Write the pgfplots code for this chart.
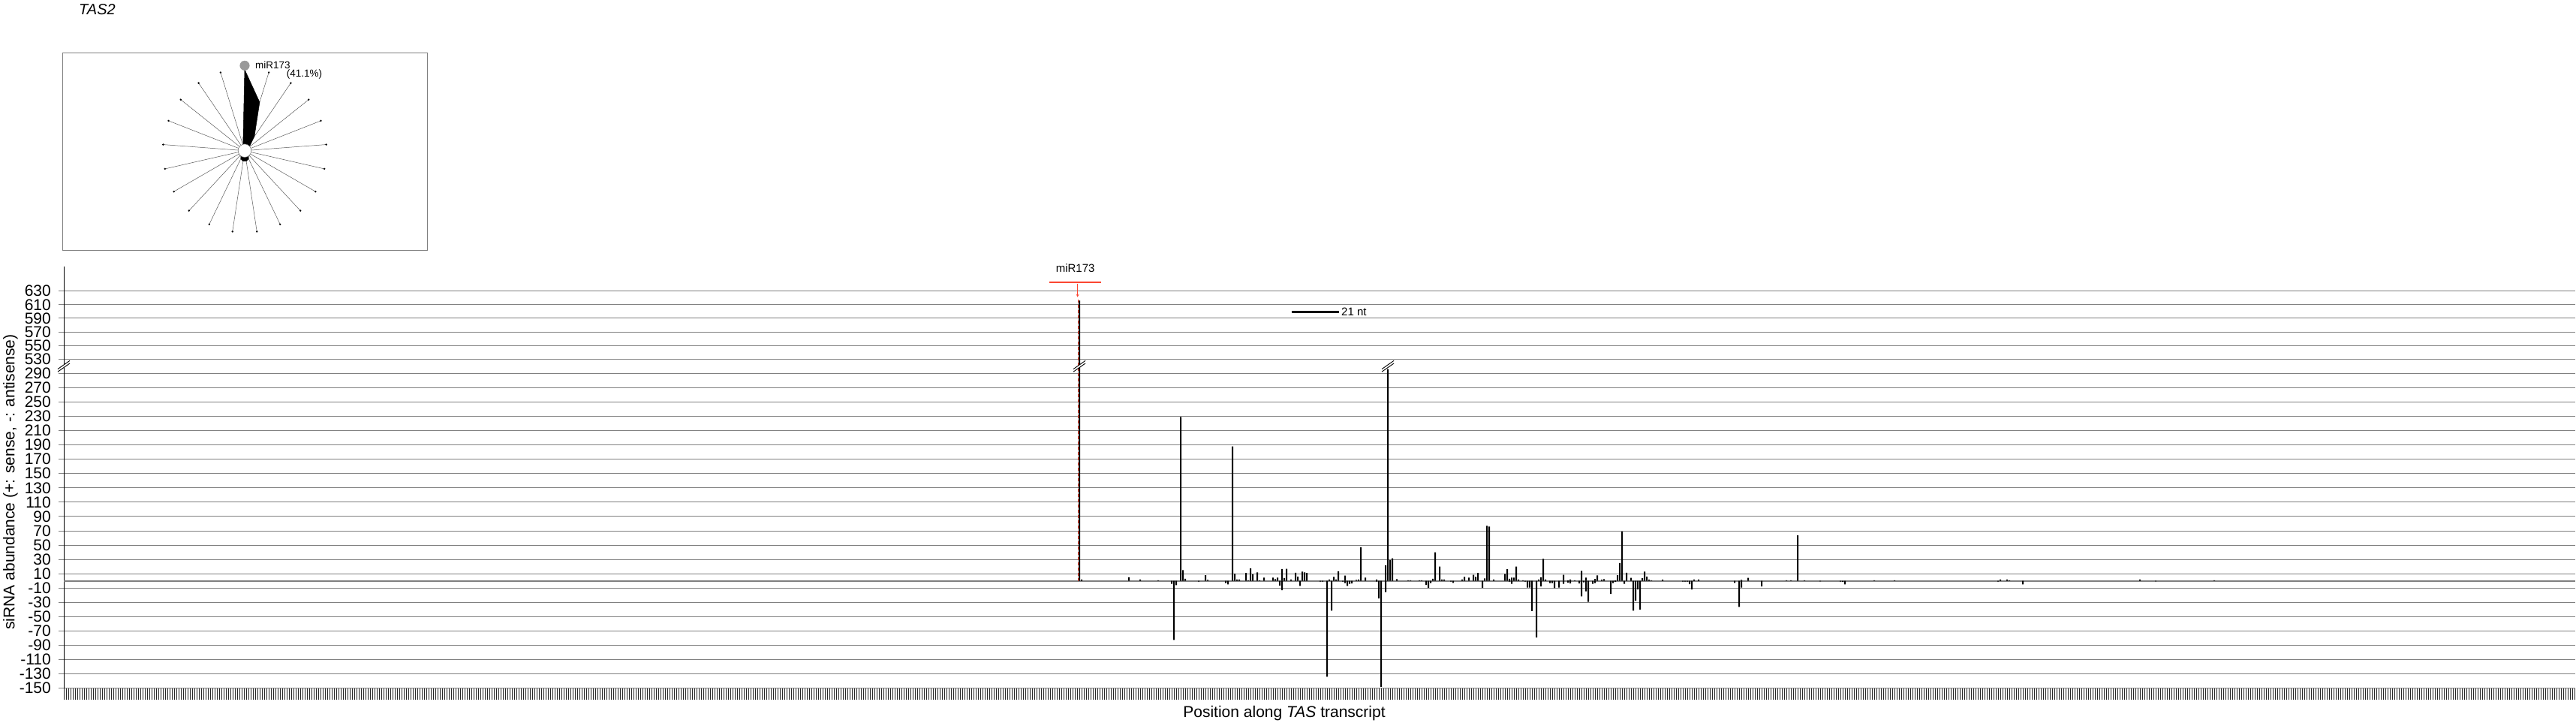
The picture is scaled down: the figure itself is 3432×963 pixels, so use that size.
\documentclass[border=0pt]{standalone}
\usepackage{fontspec}
\setmainfont{Liberation Sans}
\usepackage{pgfplots}
\usepackage{pgfplotstable}
\pgfplotsset{compat=1.18}
\definecolor{mirred}{RGB}{250,70,50}
\definecolor{gridgray}{RGB}{128,128,128}
\newcommand{\fs}[1]{\fontsize{#1bp}{#1bp}\selectfont}

% sense reads (+); 451 = 616 drawn on the upper (broken) scale: 310+(616-530)*0.95
\pgfplotstableread{
pos val
451 391.7
452 2
473 5
478 2
486 1
496 229
497 15
498 3
507 8
508 1.5
519 188
520 10
521 2
522 2
525 11
526 1
527 17.5
528 9
530 12
531 1
533 4.5
537 4.5
538 2.5
539 4.5
541 16.5
542 4
543 17
545 2
547 11.5
548 6
550 13
551 12
552 11
562 2
564 5.5
565 2
566 13.6
569 7.5
574 1.4
575 2
576 47
578 4.5
583 2
587 22
588 296
589 29
590 31.5
592 2.5
597 1
598 1
602 1
603 1
608 3
609 40
611 20
612 2
613 2
621 2
622 5.5
624 4.5
626 8.5
627 5.5
628 11
631 3.5
632 77
633 76
635 2
640 9.8
641 16.4
642 3
643 4.5
644 4.5
645 20
646 2
648 1
655 2
656 5
657 30.8
658 2
666 8.4
668 1
669 2
671 1
674 14
676 4.5
680 2.8
681 7.7
683 1.7
684 2.4
689 1
690 8
691 25
692 68.9
694 11.5
696 4.2
701 3.8
702 13
703 6
704 1.7
705 1
710 1.7
724 2
726 2
745 1.5
748 4.2
765 0.8
767 1
770 63.7
773 1
804 1
813 1
860 2
863 2
864 1
922 2
955 1
}\sensetab

% antisense reads (-)
\pgfplotstableread{
pos val
492 -4
493 -82.5
494 -6
504 -1
516 -3
517 -5
540 -6.5
541 -13
549 -7
558 -1
559 -1
561 -134
563 -41.6
568 -1
569 -3
570 -7
571 -4
572 -3.5
583 -1
584 -24.5
585 -148
587 -15.7
605 -5.6
606 -9.8
607 -3
616 -1
617 -2.8
630 -9.8
642 -1
643 -4
649 -1
650 -9.4
651 -9.4
652 -42
654 -79
656 -7.7
660 -3
661 -3
662 -10
664 -9.4
666 -4
668 -2.5
669 -3.5
673 -3.5
674 -21.7
675 -2
676 -14.7
677 -29.4
679 -4
680 -3
687 -18.2
688 -3
689 -1.5
693 -4
697 -41.6
698 -27.6
699 -12
700 -40
719 -1
720 -1
721 -1
722 -4.5
723 -12
742 -2.8
744 -36.4
745 -9.4
754 -7.7
780 -0.8
789 -1
790 -1.5
791 -5
859 -1
870 -5
929 -0.8
}\antitab

\newcommand{\brk}[2]{%
  \fill[white, shift={(axis cs:#1,#2)}] (-8bp,-7.4bp) -- (8bp,3.8bp) -- (8bp,7.4bp) -- (-8bp,-3.8bp) -- cycle;
  \draw[black, line width=0.9bp, shift={(axis cs:#1,#2)}] (-8bp,-7.4bp) -- (8bp,3.8bp) (-8bp,-3.8bp) -- (8bp,7.4bp);}

\begin{document}
\begin{tikzpicture}
\useasboundingbox (0,0) rectangle (3432bp,963bp);

% ---------- x ticks (one per nucleotide) ----------
\begin{axis}[at={(85bp,46.3bp)}, anchor=south west, scale only axis,
  width=3346bp, height=561.7bp,
  xmin=0, xmax=1115.3, ymin=-150, ymax=439.3,
  hide y axis, axis x line*=bottom,
  x axis line style={gridgray, line width=1bp, -},
  xtick={0,...,1115}, xticklabels={},
  tick align=outside, major tick length=15bp,
  xtick style={black!85, line width=1bp}]
\end{axis}

% ---------- main axis ----------
\begin{axis}[at={(85bp,46.3bp)}, anchor=south west, scale only axis,
  width=3346bp, height=561.7bp,
  xmin=0, xmax=1115.3, ymin=-150, ymax=439.3,
  axis lines*=left, clip=false,
  y axis line style={black, line width=1bp, -},
  x axis line style={gridgray, line width=1bp, -},
  xtick=\empty,
  ytick={-150,-130,-110,-90,-70,-50,-30,-10,10,30,50,70,90,110,130,150,170,190,210,230,250,270,290,310,329,348,367,386,405},
  yticklabels={-150,-130,-110,-90,-70,-50,-30,-10,10,30,50,70,90,110,130,150,170,190,210,230,250,270,290,530,550,570,590,610,630},
  tick align=outside, major tick length=7bp,
  ytick style={gridgray, line width=1bp},
  ymajorgrids, major grid style={gridgray, line width=1bp},
  yticklabel style={anchor=east, inner sep=0pt, xshift=-10bp, font=\fs{21}},
]
\addplot[gridgray, line width=2.2bp] coordinates {(0,0) (1115.3,0)};
\addplot[ybar, bar width=0.7, bar shift=0pt, fill=black, draw=none] table[x=pos, y=val] {\sensetab};
\addplot[ybar, bar width=0.7, bar shift=0pt, fill=black, draw=none] table[x=pos, y=val] {\antitab};
% miR173 target site and cleavage position
\addplot[mirred, line width=1bp, dash pattern=on 4bp off 3bp] coordinates {(450.4,0) (450.4,394)};
\addplot[mirred, line width=2bp] coordinates {(437.8,417.7) (460.6,417.7)};
\addplot[mirred, line width=0.8bp, -stealth] coordinates {(450.2,415.5) (450.2,396.5)};
% 21 nt scale bar
\addplot[black, line width=2.7bp] coordinates {(545.2,376.1) (566.2,376.1)};
% axis breaks
\brk{0}{300}
\brk{451}{300}
\brk{588}{300}
\end{axis}

% ---------- texts ----------
\node[anchor=base west, inner sep=0pt, font=\fs{20}\itshape] at (105bp,943.7bp) {TAS2};
\node[anchor=base, inner sep=0pt, font=\fs{15}] at (1432.6bp,600.3bp) {miR173};
\node[anchor=west, inner sep=0pt, font=\fs{15}] at (1787bp,548bp) {21 nt};
\node[anchor=base, inner sep=0pt, font=\fs{21}] at (1711bp,8bp) {Position along \textit{TAS} transcript};
\node[rotate=90, inner sep=0pt, font=\fs{21}] at (14bp,321bp) {siRNA abundance (+: sense, -: antisense)};

% ---------- phasing radar inset ----------
\draw[gridgray, line width=1bp] (83.3bp,629.7bp) rectangle (569bp,892.3bp);
\begin{axis}[at={(326bp,762.3bp)}, anchor=center, scale only axis,
  width=218bp, height=218bp, xmin=-1, xmax=1, ymin=-1, ymax=1,
  hide axis, clip=false]
\addplot[draw=black!65, line width=0.5bp, line join=round, data cs=polar] coordinates {
(90,1)(0,0)(72.857,1)(0,0)(55.714,1)(0,0)(38.571,1)(0,0)(21.429,1)(0,0)(4.286,1)(0,0)
(-12.857,1)(0,0)(-30,1)(0,0)(-47.143,1)(0,0)(-64.286,1)(0,0)(-81.429,1)(0,0)
(-98.571,1)(0,0)(-115.714,1)(0,0)(-132.857,1)(0,0)(-150,1)(0,0)(-167.143,1)(0,0)
(-184.286,1)(0,0)(-201.429,1)(0,0)(-218.571,1)(0,0)(-235.714,1)(0,0)(-252.857,1)};
\addplot[only marks, mark=*, mark size=1bp, black, data cs=polar] coordinates {
(72.857,1)(55.714,1)(38.571,1)(21.429,1)(4.286,1)(-12.857,1)(-30,1)(-47.143,1)
(-64.286,1)(-81.429,1)(-98.571,1)(-115.714,1)(-132.857,1)(-150,1)(-167.143,1)
(-184.286,1)(-201.429,1)(-218.571,1)(-235.714,1)(-252.857,1)};
\addplot[fill=black, draw=black, line width=0.5bp, line join=round, data cs=polar] coordinates {
(90,0.99)(72.857,0.62)(55.714,0.21)(38.571,0.07)(21.429,0.06)(4.286,0.06)
(-12.857,0.06)(-30,0.06)(-47.143,0.07)(-64.286,0.11)(-81.429,0.13)(-98.571,0.13)
(-115.714,0.11)(-132.857,0.07)(-150,0.06)(-167.143,0.06)(-184.286,0.06)
(-201.429,0.06)(-218.571,0.06)(-235.714,0.06)(-252.857,0.07)} -- cycle;
\addplot[only marks, mark=*, mark size=8.8bp, mark options={fill=white, draw=black!60, line width=0.5bp}] coordinates {(0,0)};
\addplot[only marks, mark=*, mark size=6.3bp, color=black!40, data cs=polar] coordinates {(90,1.04)};
\end{axis}
\node[anchor=base west, inner sep=0pt, font=\fs{13.5}] at (340bp,871.3bp) {miR173};
\node[anchor=base west, inner sep=0pt, font=\fs{13.5}] at (381.7bp,860bp) {(41.1\%)};
\end{tikzpicture}
\end{document}
